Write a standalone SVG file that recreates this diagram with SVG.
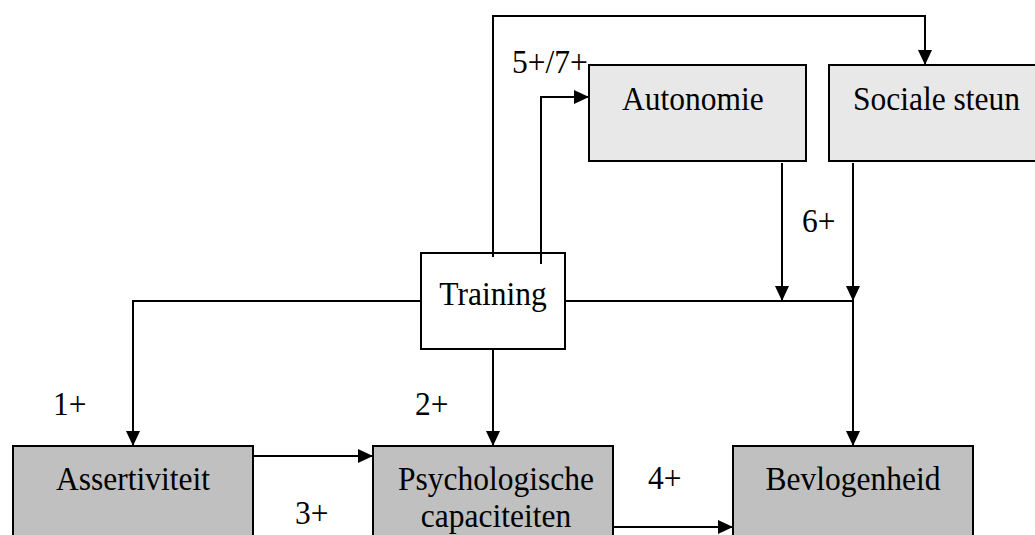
<svg xmlns="http://www.w3.org/2000/svg" width="1035" height="535" viewBox="0 0 1035 535">
<defs>
<marker id="ah" markerWidth="15" markerHeight="14" refX="15" refY="7" orient="auto" markerUnits="userSpaceOnUse">
<path d="M0,0 L15,7 L0,14 Z" fill="#000"/>
</marker>
<style>
.t{font-family:"Liberation Serif","Times New Roman",serif;font-size:31.5px;fill:#000}
.light{fill:#e8e8e8;stroke:#000;stroke-width:2}
.dark{fill:#c0c0c0;stroke:#000;stroke-width:2}
.white{fill:#fff;stroke:#000;stroke-width:2}
.c{fill:none;stroke:#000;stroke-width:2}
.a{marker-end:url(#ah)}
</style>
</defs>
<rect width="1035" height="535" fill="#fff"/>
<g id="autonomie">
<rect class="light" x="589" y="65" width="217" height="96"/>
<text class="t" transform="translate(622,110) scale(1,1.09)">Autonomie</text>
</g>
<g id="sociale-steun">
<rect class="light" x="829" y="65" width="220" height="96"/>
<text class="t" transform="translate(853,110) scale(1,1.09)">Sociale steun</text>
</g>
<g id="training">
<rect class="white" x="421" y="253" width="144" height="96"/>
<text class="t" text-anchor="middle" transform="translate(493,305) scale(1,1.09)">Training</text>
</g>
<g id="assertiviteit">
<rect class="dark" x="13" y="446" width="240" height="100"/>
<text class="t" text-anchor="middle" transform="translate(133,490) scale(1,1.09)">Assertiviteit</text>
</g>
<g id="psychologische-capaciteiten">
<rect class="dark" x="373" y="446" width="240" height="100"/>
<text class="t" text-anchor="middle" transform="translate(496,490) scale(1,1.09)">Psychologische</text>
<text class="t" text-anchor="middle" transform="translate(496,527) scale(1,1.09)">capaciteiten</text>
</g>
<g id="bevlogenheid">
<rect class="dark" x="733" y="446" width="240" height="100"/>
<text class="t" text-anchor="middle" transform="translate(853,490) scale(1,1.09)">Bevlogenheid</text>
</g>
<g id="connectors">
<polyline class="c a" points="493,257 493,16 925,16 925,65"/>
<polyline class="c a" points="541,264 541,97 589,97"/>
<line class="c a" x1="782" y1="163" x2="782" y2="301"/>
<line class="c a" x1="853" y1="163" x2="853" y2="301"/>
<line class="c a" x1="853" y1="301" x2="853" y2="446"/>
<line class="c" x1="565" y1="301" x2="853" y2="301"/>
<polyline class="c a" points="421,301 133,301 133,446"/>
<line class="c a" x1="493" y1="349" x2="493" y2="446"/>
<line class="c a" x1="253" y1="456" x2="373" y2="456"/>
<line class="c a" x1="613" y1="527" x2="733" y2="527"/>
</g>
<g id="labels">
<text class="t" transform="translate(512,73) scale(1,1.09)">5+/7+</text>
<text class="t" transform="translate(802,232) scale(1,1.09)">6+</text>
<text class="t" transform="translate(53,415) scale(1,1.09)">1+</text>
<text class="t" transform="translate(415,415) scale(1,1.09)">2+</text>
<text class="t" transform="translate(295,524) scale(1,1.09)">3+</text>
<text class="t" transform="translate(648,489) scale(1,1.09)">4+</text>
</g>
</svg>
